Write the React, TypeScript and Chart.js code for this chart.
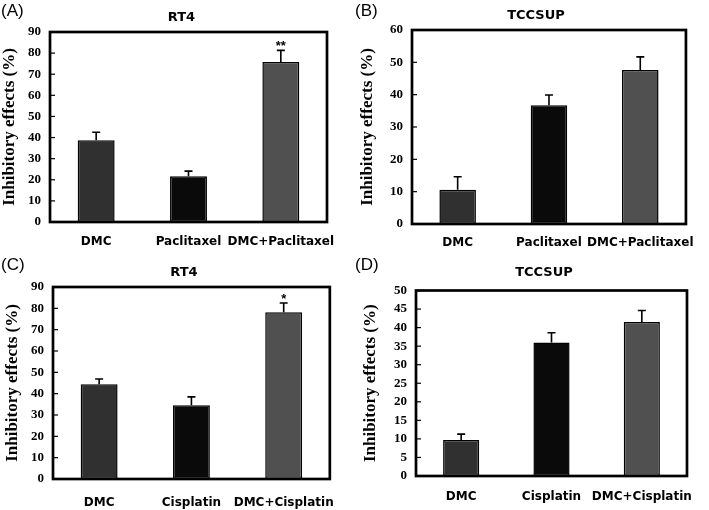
import React, { useEffect, useRef } from "react";
import { Chart, registerables } from "chart.js";

Chart.register(...registerables);

// ---------------- data ----------------
const panelLetters = ["(A)", "(B)", "(C)", "(D)"];
const panelTitles = ["RT4", "TCCSUP", "RT4", "TCCSUP"];
const paclitaxelCategories = ["DMC", "Paclitaxel", "DMC+Paclitaxel"];
const cisplatinCategories = ["DMC", "Cisplatin", "DMC+Cisplatin"];

const rt4PaclitaxelValues = [38.7, 21.7, 75.8];
const rt4PaclitaxelErrors = [3.8, 2.4, 5.5];
const tccsupPaclitaxelValues = [10.6, 36.7, 47.6];
const tccsupPaclitaxelErrors = [4.0, 3.2, 4.1];
const rt4CisplatinValues = [44.4, 34.6, 78.2];
const rt4CisplatinErrors = [2.5, 3.9, 4.3];
const tccsupCisplatinValues = [9.7, 36.0, 41.5];
const tccsupCisplatinErrors = [1.6, 2.6, 3.1];

const rt4PaclitaxelStars = ["", "", "**"];
const tccsupPaclitaxelStars = ["", "", ""];
const rt4CisplatinStars = ["", "", "*"];
const tccsupCisplatinStars = ["", "", ""];

const yMaxima = [90, 60, 90, 50];
const ySteps = [10, 10, 10, 5];
const yAxisTitle = "Inhibitory effects (%)";

// ---------------- styles / layout ----------------
const barColors = ["#303030", "#0a0a0a", "#505050"];

const layouts = [
  { x: 0, y: 0, w: 354, h: 255, plotLeft: 50, plotRight: 327, plotTop: 32, plotBottom: 222, titleX: 181.5, titleY: 17.7, yTitlePad: -0.5, xLabelPad: 12.5, letterY: 15.5 },
  { x: 354, y: 0, w: 355, h: 255, plotLeft: 58, plotRight: 333, plotTop: 30, plotBottom: 224, titleX: 182, titleY: 16, yTitlePad: 3.5, xLabelPad: 11.8, letterY: 15.5 },
  { x: 0, y: 255, w: 354, h: 255, plotLeft: 53, plotRight: 333, plotTop: 32, plotBottom: 224, titleX: 184, titleY: 17.3, yTitlePad: 2, xLabelPad: 16.8, letterY: 15 },
  { x: 354, y: 255, w: 355, h: 255, plotLeft: 62, plotRight: 333, plotTop: 35.5, plotBottom: 221, titleX: 190, titleY: 18, yTitlePad: 6, xLabelPad: 13.5, letterY: 15 },
];

const panels = [
  { categories: paclitaxelCategories, values: rt4PaclitaxelValues, errors: rt4PaclitaxelErrors, stars: rt4PaclitaxelStars },
  { categories: paclitaxelCategories, values: tccsupPaclitaxelValues, errors: tccsupPaclitaxelErrors, stars: tccsupPaclitaxelStars },
  { categories: cisplatinCategories, values: rt4CisplatinValues, errors: rt4CisplatinErrors, stars: rt4CisplatinStars },
  { categories: cisplatinCategories, values: tccsupCisplatinValues, errors: tccsupCisplatinErrors, stars: tccsupCisplatinStars },
];

function makeDecorPlugin(idx: number) {
  const lay = layouts[idx];
  const panel = panels[idx];
  return {
    id: "decor" + idx,
    afterDatasetsDraw(chart: any) {
      const ctx = chart.ctx;
      const area = chart.chartArea;
      const yScale = chart.scales.y;
      ctx.save();
      // error bars
      const meta = chart.getDatasetMeta(0);
      ctx.strokeStyle = "#000";
      ctx.lineWidth = 1.6;
      meta.data.forEach((bar: any, i: number) => {
        const v = panel.values[i];
        const e = panel.errors[i];
        const yTop = yScale.getPixelForValue(v);
        const yErr = yScale.getPixelForValue(v + e);
        ctx.beginPath();
        ctx.moveTo(bar.x, yTop);
        ctx.lineTo(bar.x, yErr);
        ctx.moveTo(bar.x - 4, yErr);
        ctx.lineTo(bar.x + 4, yErr);
        ctx.stroke();
        const s = panel.stars[i];
        if (s) {
          ctx.fillStyle = "#000";
          ctx.font = "bold 13px 'Liberation Sans'";
          ctx.textAlign = "center";
          ctx.textBaseline = "alphabetic";
          ctx.fillText(s, bar.x, yErr);
        }
      });
      // inward y tick marks
      ctx.lineWidth = 1.2;
      yScale.ticks.forEach((t: any) => {
        const py = yScale.getPixelForValue(t.value);
        ctx.beginPath();
        ctx.moveTo(area.left, py);
        ctx.lineTo(area.left + 5, py);
        ctx.stroke();
      });
      // frame
      ctx.lineWidth = 2.7;
      ctx.strokeRect(area.left, area.top, area.right - area.left, area.bottom - area.top);
      ctx.restore();
    },
    afterDraw(chart: any) {
      const ctx = chart.ctx;
      ctx.save();
      ctx.fillStyle = "#000";
      ctx.textAlign = "center";
      ctx.textBaseline = "middle";
      ctx.font = "bold 13px 'DejaVu Sans'";
      ctx.fillText(panelTitles[idx], lay.titleX, lay.titleY);
      ctx.textAlign = "left";
      ctx.textBaseline = "alphabetic";
      ctx.font = "17px 'Liberation Sans'";
      ctx.fillText(panelLetters[idx], 1, lay.letterY);
      ctx.restore();
    },
  };
}

function Panel({ idx }: { idx: number }) {
  const ref = useRef<HTMLCanvasElement | null>(null);
  useEffect(() => {
    const lay = layouts[idx];
    const panel = panels[idx];
    const chart = new Chart(ref.current as HTMLCanvasElement, {
      type: "bar",
      data: {
        labels: panel.categories,
        datasets: [
          {
            data: panel.values,
            backgroundColor: barColors,
            borderColor: "#000",
            borderWidth: 1.5,
            borderSkipped: false,
            barPercentage: 0.4,
            categoryPercentage: 1,
          },
        ],
      },
      options: {
        animation: false,
        responsive: false,
        devicePixelRatio: 1,
        layout: { padding: { left: 0, right: lay.w - lay.plotRight, top: lay.plotTop, bottom: 0 } },
        plugins: { legend: { display: false }, tooltip: { enabled: false }, title: { display: false } },
        scales: {
          x: {
            grid: { display: false, drawTicks: false },
            border: { display: false },
            ticks: {
              color: "#000",
              padding: lay.xLabelPad,
              maxRotation: 0,
              autoSkip: false,
              font: { family: "'DejaVu Sans'", weight: "bold", size: 12 },
            },
            afterFit: (scale: any) => {
              scale.height = lay.h - lay.plotBottom;
            },
          },
          y: {
            min: 0,
            max: yMaxima[idx],
            grid: { display: false, drawTicks: false },
            border: { display: false },
            ticks: {
              stepSize: ySteps[idx],
              autoSkip: false,
              color: "#000",
              padding: 9,
              font: { family: "'Liberation Serif'", weight: "bold", size: 13 },
            },
            title: {
              display: true,
              text: yAxisTitle,
              color: "#000",
              padding: { top: lay.yTitlePad, bottom: 0 },
              font: { family: "'Liberation Serif'", weight: "bold", size: 17 },
            },
            afterFit: (scale: any) => {
              scale.width = lay.plotLeft;
            },
          },
        },
      } as any,
      plugins: [makeDecorPlugin(idx)],
    });
    return () => chart.destroy();
  }, [idx]);
  const lay = layouts[idx];
  return (
    <div style={{ position: "absolute", left: lay.x, top: lay.y, width: lay.w, height: lay.h }}>
      <canvas ref={ref} width={lay.w} height={lay.h} style={{ display: "block", width: lay.w, height: lay.h }} />
    </div>
  );
}

export default function App() {
  return (
    <div style={{ position: "absolute", left: 0, top: 0, width: 709, height: 510, background: "#fff" }}>
      {[0, 1, 2, 3].map((i) => (
        <Panel key={i} idx={i} />
      ))}
    </div>
  );
}
